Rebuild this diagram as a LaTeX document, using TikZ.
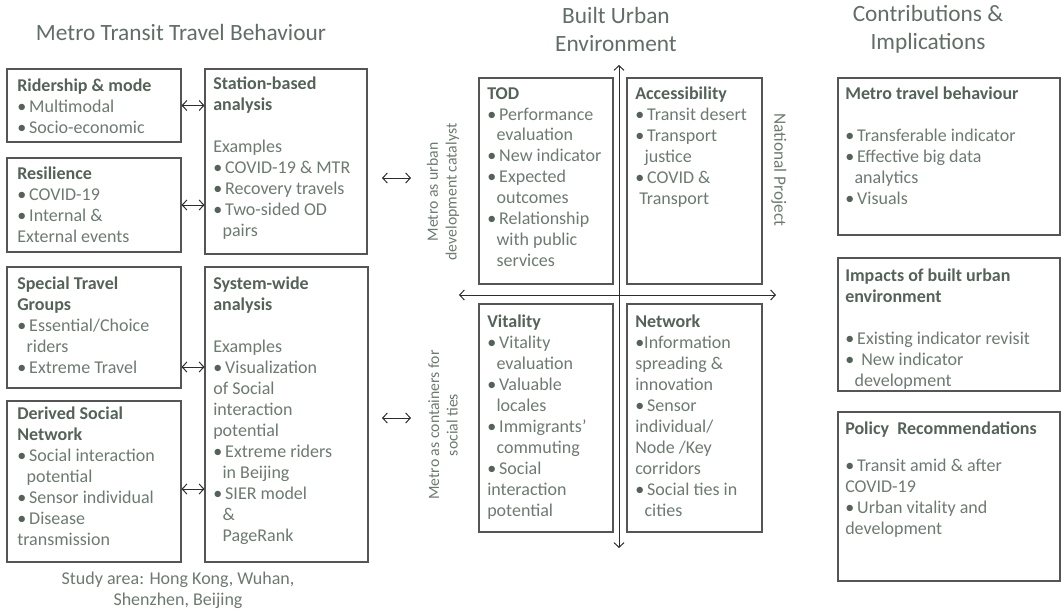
\documentclass[tikz,border=0pt]{standalone}
\usepackage{fontspec}
\setmainfont{Carlito}
\usetikzlibrary{arrows.meta,fit}
\definecolor{bodyc}{RGB}{108,122,112}
\definecolor{headc}{RGB}{84,98,88}
\definecolor{titlec}{RGB}{96,110,102}
\definecolor{linec}{RGB}{85,85,85}
\definecolor{arrc}{RGB}{45,45,45}
\newcommand\hd[1]{\textcolor{headc}{\textbf{#1}}}
\newcommand\bl{\textcolor{headc}{\textbullet}\,}
\newcommand\ind{\hspace*{7pt}}
\tikzset{
  box/.style={draw=linec, line width=0.8pt, inner sep=0pt},
  txt/.style={font=\fontsize{13.5}{15.7}\selectfont, text=bodyc, align=left, inner sep=0pt, anchor=north west},
  ttl/.style={font=\fontsize{17.5}{21}\selectfont, text=titlec, align=center, inner sep=0pt},
  rot/.style={font=\fontsize{11.8}{14}\selectfont, text=bodyc, align=center, inner sep=0pt},
  dbl/.style={draw=arrc, line width=0.75pt, {Straight Barb[length=3.5pt,width=7.5pt]}-{Straight Barb[length=3.5pt,width=7.5pt]}},
}
\begin{document}
\begin{tikzpicture}[x=0.75pt,y=-0.75pt]
\useasboundingbox (0,0) rectangle (1061,610);

% titles
\node[ttl] (t1) at (181,32) {Metro Transit Travel Behaviour};
\node[ttl] (t2) at (616,29) {Built Urban\\Environment};
\node[ttl] (t3) at (928,29) {Contributions \&\\Implications};

% left column boxes
\node[box, fit={(7,69)(181,142)}] (rid) {};
\node[box, fit={(7,158)(181,252)}] (res) {};
\node[box, fit={(205,69)(367,254)}] (sta) {};
\node[box, fit={(7,267)(181,388)}] (stg) {};
\node[box, fit={(7,401)(181,562)}] (dsn) {};
\node[box, fit={(205,267)(368,562)}] (sys) {};

\node[txt] (ridt) at (17,79) {\hd{Ridership \& mode}\\ \bl Multimodal\\ \bl Socio-economic};
\node[txt] (rest) at (17,167) {\hd{Resilience}\\ \bl COVID-19\\ \bl Internal \&\\ External events};
\node[txt] (stat) at (213,77) {\hd{Station-based}\\ \hd{analysis}\\[15.7pt] Examples\\ \bl COVID-19 \& MTR\\ \bl Recovery travels\\ \bl Two-sided OD\\ \ind pairs};
\node[txt] (stgt) at (17,277) {\hd{Special Travel}\\ \hd{Groups}\\ \bl Essential/Choice\\ \ind riders\\ \bl Extreme Travel};
\node[txt] (dsnt) at (17,407) {\hd{Derived Social}\\ \hd{Network}\\ \bl Social interaction\\ \ind potential\\ \bl Sensor individual\\ \bl Disease\\ transmission};
\node[txt] (syst) at (213,277) {\hd{System-wide}\\ \hd{analysis}\\[15.7pt] Examples\\ \bl Visualization\\ of Social\\ interaction\\ potential\\ \bl Extreme riders\\ \ind in Beijing\\ \bl SIER model\\ \ind \&\\ \ind PageRank};

\node[txt, anchor=north, align=center] (study) at (178,572) {Study area: Hong Kong, Wuhan,\\Shenzhen, Beijing};

% left connectors
\coordinate (y3) at (0,367);
\coordinate (y4) at (0,489);
\draw[dbl] (rid.east) -- (rid.east -| sta.west);
\draw[dbl] (res.east) -- (res.east -| sta.west);
\draw[dbl] (stg.east |- y3) -- (sys.west |- y3);
\draw[dbl] (dsn.east |- y4) -- (sys.west |- y4);

% middle arrows (free)
\coordinate (m1a) at (382,178); \coordinate (m1b) at (411,178);
\coordinate (m2a) at (382,418); \coordinate (m2b) at (411,418);
\draw[dbl] (m1a) -- (m1b);
\draw[dbl] (m2a) -- (m2b);

% quadrant boxes
\node[box, fit={(479,78)(613,284)}] (tod) {};
\node[box, fit={(627,78)(762,284)}] (acc) {};
\node[box, fit={(479,304)(613,532)}] (vit) {};
\node[box, fit={(627,304)(762,532)}] (net) {};

\node[txt] (todt) at (487,87) {\hd{TOD}\\ \bl Performance\\ \ind evaluation\\ \bl New indicator\\ \bl Expected\\ \ind outcomes\\ \bl Relationship\\ \ind with public\\ \ind services};
\node[txt] (acct) at (635,87) {\hd{Accessibility}\\ \bl Transit desert\\ \bl Transport\\ \ind justice\\ \bl COVID \&\\ \hspace*{3pt}Transport};
\node[txt] (vitt) at (487,315) {\hd{Vitality}\\ \bl Vitality\\ \ind evaluation\\ \bl Valuable\\ \ind locales\\ \bl Immigrants’\\ \ind commuting\\ \bl Social\\ interaction\\ potential};
\node[txt] (nett) at (635,315) {\hd{Network}\\ \textcolor{headc}{\textbullet}Information\\ spreading \&\\ innovation\\ \bl Sensor\\ individual/\\ Node /Key\\ corridors\\ \bl Social ties in\\ \ind cities};

% axes
\coordinate (vt) at (619,65); \coordinate (vb) at (619,548);
\coordinate (hl) at (459,295); \coordinate (hr) at (776,295);
\draw[dbl] (vb) -- (vt);
\draw[dbl] (hl) -- (hr);

% rotated labels
\node[rot, rotate=90] (lab1) at (443,192) {Metro as urban\\development catalyst};
\node[rot, rotate=90] (lab3) at (443,425) {Metro as containers for\\social ties};
\node[rot, rotate=-90, font=\fontsize{13}{15}\selectfont] (lab2) at (779,170) {National Project};

% right column
\node[box, fit={(838,78)(1060,235)}] (mtb) {};
\node[box, fit={(838,258)(1060,391)}] (imp) {};
\node[box, fit={(838,412)(1060,581)}] (pol) {};

\node[txt] (mtbt) at (845,87) {\hd{Metro travel behaviour}\\[15.7pt] \bl Transferable indicator\\ \bl Effective big data\\ \ind analytics\\ \bl Visuals};
\node[txt] (impt) at (845,269) {\hd{Impacts of built urban}\\ \hd{environment}\\[15.7pt] \bl Existing indicator revisit\\ \bl\ New indicator\\ \ind development};
\node[txt] (polt) at (845,422) {\hd{Policy\ \ Recommendations}\\[12pt] \bl Transit amid \& after\\ COVID-19\\ \bl Urban vitality and\\ development};
\end{tikzpicture}
\end{document}
